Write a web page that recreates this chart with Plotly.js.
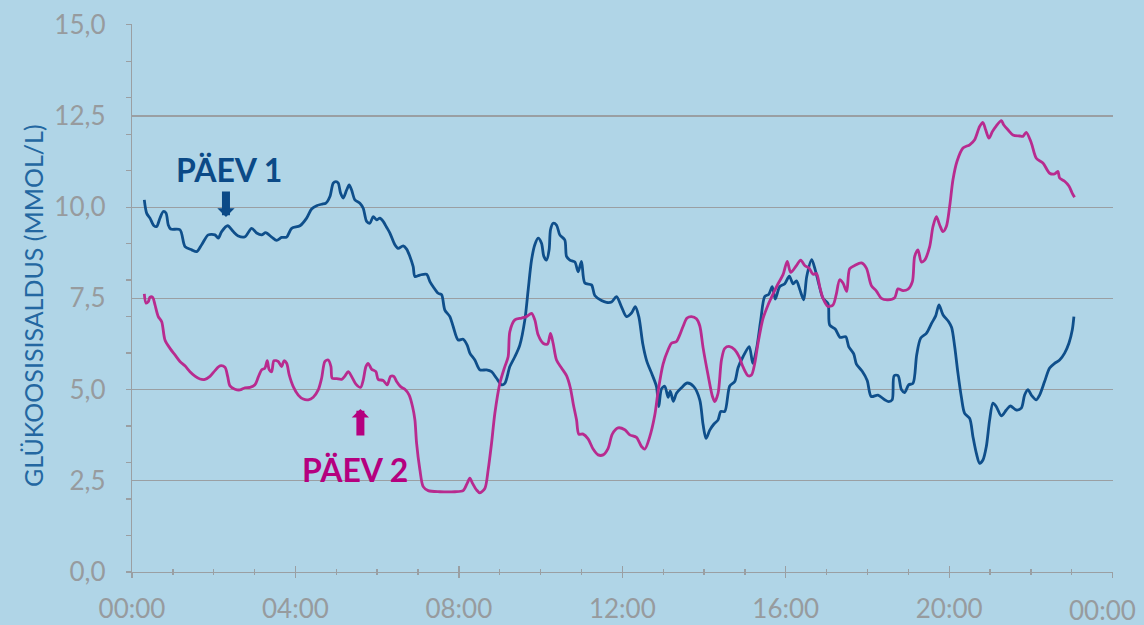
<!DOCTYPE html>
<html>
<head>
<meta charset="utf-8">
<script src="https://cdn.plot.ly/plotly-3.0.1.min.js"></script>
<style>html,body{margin:0;padding:0;background:#b0d5e7;}#chart{width:1144px;height:625px;}</style>
</head>
<body>
<div id="chart"></div>
<script>
// Time of day in hours (0 = 00:00)
const day1Hours = [0.301,0.360,0.440,0.538,0.604,0.685,0.766,0.832,0.888,0.947,1.174,1.297,1.461,1.583,1.705,1.867,2.031,2.111,2.194,2.341,2.478,2.601,2.765,2.928,3.051,3.173,3.271,3.418,3.540,3.662,3.785,3.907,4.110,4.274,4.396,4.519,4.641,4.746,4.844,4.925,4.991,5.047,5.106,5.169,5.253,5.316,5.375,5.456,5.578,5.659,5.742,5.823,5.903,5.987,6.067,6.148,6.231,6.312,6.434,6.515,6.637,6.721,6.801,6.882,6.924,7.046,7.210,7.291,7.371,7.494,7.577,7.657,7.780,7.861,7.983,8.105,8.203,8.269,8.391,8.514,8.678,8.800,8.922,9.045,9.125,9.248,9.370,9.492,9.615,9.696,9.779,9.859,9.940,10.023,10.080,10.146,10.209,10.243,10.307,10.390,10.471,10.593,10.635,10.716,10.838,10.919,11.002,11.083,11.246,11.327,11.491,11.613,11.736,11.858,11.980,12.103,12.225,12.318,12.404,12.502,12.599,12.734,12.837,12.893,12.959,13.040,13.121,13.174,13.248,13.326,13.448,13.590,13.749,13.896,13.977,14.050,14.141,14.239,14.344,14.410,14.508,14.630,14.752,14.833,14.955,15.107,15.193,15.291,15.388,15.486,15.584,15.670,15.743,15.853,15.976,16.088,16.179,16.262,16.343,16.440,16.514,16.636,16.722,16.795,16.913,17.035,17.076,17.211,17.333,17.468,17.541,17.664,17.730,17.872,17.994,18.092,18.258,18.422,18.520,18.606,18.654,18.748,18.831,18.911,19.009,19.114,19.205,19.303,19.442,19.572,19.670,19.751,19.848,19.988,20.061,20.135,20.215,20.298,20.379,20.502,20.582,20.666,20.746,20.827,20.910,20.991,21.072,21.155,21.277,21.399,21.497,21.644,21.766,21.847,21.928,22.011,22.133,22.214,22.336,22.459,22.581,22.703,22.826,22.931,23.014,23.053];
const day1Glucose = [10.2,9.83,9.70,9.49,9.47,9.70,9.88,9.84,9.51,9.40,9.38,8.92,8.83,8.78,8.97,9.24,9.24,9.15,9.33,9.49,9.33,9.21,9.19,9.42,9.29,9.24,9.30,9.18,9.09,9.17,9.18,9.42,9.49,9.70,9.95,10.04,10.08,10.11,10.29,10.66,10.70,10.66,10.38,10.25,10.47,10.61,10.47,10.20,10.11,9.97,9.61,9.56,9.74,9.65,9.70,9.61,9.45,9.29,8.97,8.87,8.94,8.85,8.65,8.37,8.10,8.14,8.16,7.96,7.82,7.64,7.60,7.18,7.00,6.73,6.36,6.38,6.22,6.00,5.81,5.54,5.54,5.49,5.31,5.13,5.17,5.63,5.90,6.22,6.91,7.73,8.55,8.97,9.15,9.01,8.65,8.55,8.83,9.38,9.56,9.51,9.24,9.10,8.65,8.55,8.50,8.23,8.51,7.92,7.87,7.58,7.44,7.39,7.40,7.55,7.27,7.00,7.10,7.27,7.00,6.25,5.78,5.40,5.08,4.53,5.02,5.09,4.79,4.96,4.68,4.90,5.05,5.18,5.08,4.72,4.04,3.66,3.89,4.05,4.17,4.40,4.40,5.10,5.22,5.60,5.90,6.18,5.72,6.15,6.90,7.55,7.61,7.82,7.48,7.82,7.90,8.11,7.90,7.98,7.75,7.46,8.10,8.56,8.28,7.96,7.50,7.36,6.77,6.66,6.43,6.45,6.18,5.98,5.70,5.50,5.25,4.81,4.85,4.72,4.67,4.72,5.38,5.38,5.00,4.92,5.13,5.17,5.95,6.41,6.54,6.82,7.02,7.32,7.05,6.86,6.70,6.18,5.45,4.80,4.35,4.21,3.71,3.25,2.98,3.07,3.44,4.17,4.63,4.53,4.28,4.44,4.55,4.44,4.49,4.85,5.00,4.85,4.72,4.85,5.22,5.59,5.72,5.81,6.00,6.27,6.64,7.00];

const day2Hours = [0.301,0.343,0.399,0.440,0.506,0.563,0.643,0.727,0.807,0.930,1.052,1.174,1.297,1.419,1.541,1.664,1.786,1.908,2.031,2.153,2.275,2.341,2.398,2.520,2.642,2.765,2.887,3.009,3.090,3.173,3.254,3.310,3.359,3.418,3.474,3.579,3.662,3.719,3.785,3.848,3.946,4.069,4.191,4.313,4.436,4.558,4.641,4.722,4.803,4.869,4.900,5.008,5.130,5.211,5.292,5.375,5.480,5.595,5.659,5.725,5.781,5.864,5.969,6.026,6.148,6.246,6.329,6.410,6.476,6.574,6.679,6.784,6.867,6.924,6.965,7.046,7.127,7.249,7.535,7.902,8.105,8.203,8.269,8.335,8.433,8.514,8.636,8.717,8.800,8.881,9.003,9.125,9.206,9.248,9.370,9.534,9.656,9.779,9.859,9.940,10.062,10.170,10.243,10.307,10.390,10.513,10.635,10.728,10.801,10.880,10.936,11.041,11.163,11.286,11.408,11.530,11.653,11.755,11.897,12.061,12.183,12.347,12.470,12.550,12.673,12.795,12.876,12.998,13.121,13.204,13.326,13.407,13.487,13.585,13.693,13.815,13.896,13.977,14.099,14.207,14.263,14.344,14.427,14.508,14.630,14.752,14.858,14.955,15.078,15.161,15.242,15.322,15.445,15.567,15.689,15.812,15.934,16.037,16.122,16.262,16.367,16.465,16.570,16.668,16.751,16.832,16.913,17.035,17.157,17.235,17.321,17.401,17.492,17.565,17.688,17.852,17.974,18.096,18.219,18.341,18.503,18.667,18.748,18.870,18.992,19.100,19.156,19.237,19.320,19.401,19.523,19.604,19.687,19.768,19.848,19.931,20.012,20.093,20.191,20.338,20.502,20.624,20.746,20.827,20.893,20.974,21.057,21.155,21.277,21.333,21.439,21.561,21.725,21.806,21.887,22.011,22.133,22.295,22.459,22.581,22.661,22.703,22.826,22.931,23.014,23.070];
const day2Glucose = [7.62,7.37,7.41,7.53,7.53,7.32,7.00,6.86,6.36,6.13,5.95,5.77,5.65,5.49,5.37,5.29,5.28,5.36,5.52,5.65,5.61,5.36,5.10,5.01,4.99,5.05,5.06,5.13,5.34,5.54,5.59,5.79,5.54,5.49,5.79,5.77,5.63,5.79,5.72,5.40,5.08,4.85,4.74,4.72,4.79,4.99,5.31,5.77,5.81,5.63,5.31,5.30,5.28,5.37,5.49,5.36,5.15,5.06,5.26,5.63,5.72,5.56,5.49,5.28,5.25,5.13,5.36,5.36,5.22,5.08,5.01,4.85,4.53,4.17,3.53,2.80,2.34,2.23,2.20,2.20,2.23,2.43,2.57,2.43,2.25,2.17,2.29,2.80,3.53,4.35,5.17,5.63,5.90,6.59,6.91,6.96,7.00,7.09,6.91,6.50,6.27,6.25,6.54,6.27,5.81,5.59,5.38,5.05,4.60,4.17,3.78,3.78,3.65,3.37,3.21,3.21,3.39,3.78,3.95,3.90,3.76,3.69,3.44,3.37,3.71,4.30,4.95,5.70,6.09,6.27,6.32,6.50,6.73,6.96,7.00,6.94,6.75,6.15,5.40,4.81,4.67,4.90,5.81,6.13,6.18,6.09,5.90,5.62,5.38,5.40,5.72,6.27,6.95,7.32,7.62,7.90,8.15,8.51,8.21,8.40,8.55,8.40,8.33,8.16,8.18,7.82,7.50,7.28,7.32,7.60,8.01,7.92,7.69,8.31,8.40,8.47,8.33,7.85,7.70,7.50,7.46,7.52,7.76,7.71,7.75,7.96,8.65,8.83,8.50,8.55,8.92,9.47,9.74,9.51,9.33,9.47,10.02,10.75,11.25,11.62,11.71,11.85,12.21,12.32,12.12,11.89,12.07,12.23,12.37,12.26,12.12,11.98,11.95,11.94,12.05,11.76,11.34,11.21,10.93,10.91,10.98,10.80,10.71,10.58,10.38,10.27];

const xTickVals = [0, 4, 8, 12, 16, 20, 24];
const xTickText = ["00:00", "04:00", "08:00", "12:00", "16:00", "20:00", "00:00"];
const yTickVals = [0, 2.5, 5, 7.5, 10, 12.5, 15];
const yTickText = ["0,0", "2,5", "5,0", "7,5", "10,0", "12,5", "15,0"];
const yMinorVals = [0,1,2,3,4,5,6,7,8,9,10,11,12,13,14,15];
const day1Label = "PÄEV 1";
const day2Label = "PÄEV 2";
const yTitle = "GLÜKOOSISISALDUS (MMOL/L)";

const BG = '#b0d5e7';
const GRID = '#9a9fa3';
const TICKFONT = {family: 'Lato, sans-serif', size: 26, color: '#979b9e'};
const BLUE = '#0f4f8b';
const MAGENTA = '#b82b8f';

// The last "00:00" label sits at the right paper edge; it is drawn as an annotation so it is not clipped.
const mainTickText = xTickText.map((t, i) => i === xTickText.length - 1 ? '' : t);

const traces = [
  {x: day1Hours, y: day1Glucose, type: 'scatter', mode: 'lines', name: day1Label,
   line: {color: BLUE, width: 2.8, shape: 'spline', smoothing: 0.8}, hoverinfo: 'skip'},
  {x: day2Hours, y: day2Glucose, type: 'scatter', mode: 'lines', name: day2Label,
   line: {color: MAGENTA, width: 2.8, shape: 'spline', smoothing: 0.8}, hoverinfo: 'skip'},
  {x: xTickVals, y: xTickVals.map(() => null), xaxis: 'x2', yaxis: 'y2', type: 'scatter',
   mode: 'lines', showlegend: false, hoverinfo: 'skip'}
];

const layout = {
  width: 1144, height: 625,
  margin: {l: 132, r: 31, t: 24, b: 53},
  paper_bgcolor: BG, plot_bgcolor: BG,
  showlegend: false,
  xaxis: {
    range: [0, 24.01], tickmode: 'array', tickvals: xTickVals, ticktext: mainTickText,
    ticks: 'outside', ticklen: 5, tickwidth: 1.3, tickcolor: GRID,
    minor: {tickmode: 'linear', tick0: 0, dtick: 1, ticks: 'outside', ticklen: 2, tickwidth: 1.3, tickcolor: GRID, showgrid: false},
    showline: true, linecolor: GRID, linewidth: 1.3, showgrid: false, zeroline: false,
    tickfont: TICKFONT, ticklabelstandoff: 8, fixedrange: true
  },
  xaxis2: {
    overlaying: 'x', anchor: 'y', side: 'bottom', range: [0, 24.01],
    tickmode: 'array', tickvals: xTickVals, ticks: 'inside', ticklen: 6, tickwidth: 1.3, tickcolor: GRID,
    minor: {tickmode: 'linear', tick0: 0, dtick: 1, ticks: 'inside', ticklen: 3, tickwidth: 1.3, tickcolor: GRID, showgrid: false},
    showticklabels: false, showline: false, showgrid: false, zeroline: false, fixedrange: true
  },
  yaxis: {
    range: [0, 15.02], tickmode: 'array', tickvals: yTickVals, ticktext: yTickText,
    ticks: '', showgrid: true, gridcolor: GRID, gridwidth: 1.3, zeroline: false,
    showline: true, linecolor: GRID, linewidth: 1.3,
    tickfont: TICKFONT, ticklabelstandoff: 20, fixedrange: true
  },
  yaxis2: {
    overlaying: 'y', anchor: 'x', side: 'left', range: [0, 15.02],
    tickmode: 'array', tickvals: yMinorVals, ticks: 'outside', ticklen: 5, tickwidth: 1.3, tickcolor: GRID,
    showticklabels: false, showline: false, showgrid: false, zeroline: false, fixedrange: true
  },
  annotations: [
    {xref: 'paper', yref: 'paper', x: -0.1009, y: 0.4854, xanchor: 'center', yanchor: 'middle',
     text: yTitle, textangle: -90, showarrow: false,
     font: {family: 'Lato, sans-serif', size: 25, color: '#2367a1'}},
    {xref: 'paper', yref: 'paper', x: 0.9888, y: -0.0695, xanchor: 'center', yanchor: 'middle',
     text: xTickText[xTickText.length - 1], showarrow: false, font: TICKFONT},
    {x: 2.373, y: 11.02, xref: 'x', yref: 'y', text: '<b>' + day1Label + '</b>', showarrow: false,
     xanchor: 'center', yanchor: 'middle', font: {family: 'Lato, sans-serif', size: 32, color: '#0b4a87'}},
    {x: 2.30, y: 9.73, xref: 'x', yref: 'y', ax: 0, ay: -27, text: '', showarrow: true,
     arrowhead: 1, arrowsize: 0.36, arrowwidth: 8, arrowcolor: '#0b4a87', standoff: 0},
    {x: 5.456, y: 2.82, xref: 'x', yref: 'y', text: '<b>' + day2Label + '</b>', showarrow: false,
     xanchor: 'center', yanchor: 'middle', font: {family: 'Lato, sans-serif', size: 32, color: '#b5007f'}},
    {x: 5.59, y: 4.47, xref: 'x', yref: 'y', ax: 0, ay: 28, text: '', showarrow: true,
     arrowhead: 1, arrowsize: 0.36, arrowwidth: 8, arrowcolor: '#b5007f', standoff: 0}
  ]
};

Plotly.newPlot('chart', traces, layout, {staticPlot: true, displayModeBar: false});
</script>
</body>
</html>
